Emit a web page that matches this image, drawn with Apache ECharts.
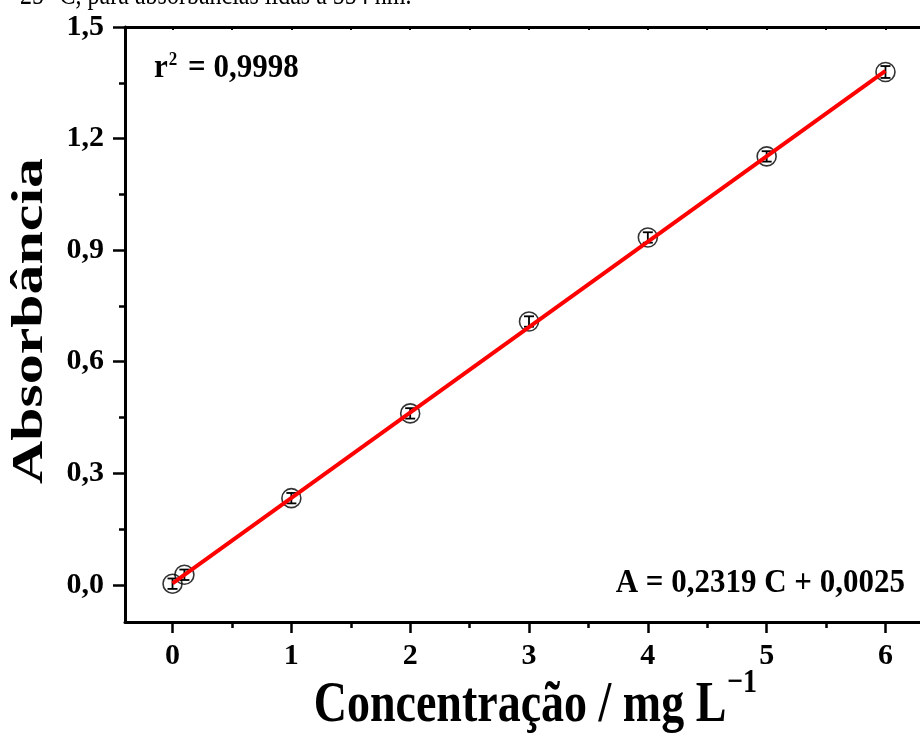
<!DOCTYPE html>
<html>
<head>
<meta charset="utf-8">
<script src="https://cdn.jsdelivr.net/npm/echarts@6/dist/echarts.min.js"></script>
<style>html,body{margin:0;padding:0;background:#fff}#c{width:920px;height:733px}</style>
</head>
<body>
<div id="c"></div>
<script>
// ---- data ----
const concentrations = [0, 0.1, 1, 2, 3, 4, 5, 6];
const absorbances = [0.003, 0.027, 0.233, 0.461, 0.708, 0.934, 1.152, 1.379];
const errors = [0.014, 0.014, 0.014, 0.014, 0.014, 0.014, 0.014, 0.016];
const fitX = [0, 6];
const fitY = [0.004, 1.382];
const xMajorTicks = [0, 1, 2, 3, 4, 5, 6];
const xMinorTicks = [0.5, 1.5, 2.5, 3.5, 4.5, 5.5];
const yMajorTicks = [0, 0.3, 0.6, 0.9, 1.2, 1.5];
const yMinorTicks = [0.15, 0.45, 0.75, 1.05, 1.35];
const xTitle = 'Concentração / mg L';
const xTitleSup = '−1';
const yTitle = 'Absorbância';
const r2Label = ' = 0,9998';
const eqLabel = 'A = 0,2319 C + 0,0025';
const caption = '25 °C, para absorbâncias lidas a 554 nm.';

const FONT = '"Liberation Serif", "Times New Roman", serif';
const chart = echarts.init(document.getElementById('c'), null, {renderer: 'canvas'});

const points = concentrations.map((c, i) => [c, absorbances[i]]);
const errData = concentrations.map((c, i) => [c, absorbances[i], errors[i]]);
const fitData = fitX.map((x, i) => [x, fitY[i]]);

const baseX = {type: 'value', min: -0.4, max: 6.4, splitLine: {show: false}};
const baseY = {type: 'value', min: -0.1, max: 1.5, splitLine: {show: false}};
const lineStyle = {color: '#000', width: 3};

const option = {
  backgroundColor: '#fff',
  animation: false,
  grid: {left: 125, top: 27, width: 808, height: 595, containLabel: false, outerBoundsMode: 'none'},
  xAxis: [
    Object.assign({}, baseX, {
      position: 'bottom',
      axisLine: {show: true, onZero: false, lineStyle: lineStyle},
      axisTick: {show: true, inside: false, length: 11, lineStyle: {color: '#000', width: 2.5}, customValues: xMajorTicks},
      axisLabel: {show: true, customValues: xMajorTicks, margin: 19, color: '#000', fontFamily: FONT, fontWeight: 'bold', fontSize: 30,
        formatter: v => String(v)}
    }),
    Object.assign({}, baseX, {
      position: 'bottom',
      axisLine: {show: false, onZero: false},
      axisTick: {show: true, inside: false, length: 6, lineStyle: {color: '#000', width: 2.5}, customValues: xMinorTicks},
      axisLabel: {show: false}
    }),
    Object.assign({}, baseX, {
      position: 'top',
      axisLine: {show: true, onZero: false, lineStyle: lineStyle},
      axisTick: {show: true, inside: true, length: 3, lineStyle: {color: '#000', width: 2}, customValues: xMajorTicks.concat(xMinorTicks)},
      axisLabel: {show: false}
    })
  ],
  yAxis: [
    Object.assign({}, baseY, {
      position: 'left',
      axisLine: {show: true, onZero: false, lineStyle: lineStyle},
      axisTick: {show: true, inside: false, length: 12, lineStyle: {color: '#000', width: 2.5}, customValues: yMajorTicks},
      axisLabel: {show: true, customValues: yMajorTicks, margin: 21, color: '#000', fontFamily: FONT, fontWeight: 'bold', fontSize: 30,
        formatter: v => v.toFixed(1).replace('.', ',')}
    }),
    Object.assign({}, baseY, {
      position: 'left',
      axisLine: {show: false, onZero: false},
      axisTick: {show: true, inside: false, length: 6, lineStyle: {color: '#000', width: 2.5}, customValues: yMinorTicks},
      axisLabel: {show: false}
    })
  ],
  series: [
    {
      type: 'custom', name: 'erro', xAxisIndex: 0, yAxisIndex: 0, z: 3,
      data: errData,
      renderItem: function (params, api) {
        const x = api.value(0), y = api.value(1), e = api.value(2);
        const top = api.coord([x, y + e]);
        const bot = api.coord([x, y - e]);
        const hw = 5;
        const st = {stroke: '#000', lineWidth: 1.8};
        return {type: 'group', children: [
          {type: 'line', shape: {x1: top[0], y1: top[1], x2: bot[0], y2: bot[1]}, style: st},
          {type: 'line', shape: {x1: top[0] - hw, y1: top[1], x2: top[0] + hw, y2: top[1]}, style: st},
          {type: 'line', shape: {x1: bot[0] - hw, y1: bot[1], x2: bot[0] + hw, y2: bot[1]}, style: st}
        ]};
      }
    },
    {
      type: 'scatter', name: 'Absorbância', xAxisIndex: 0, yAxisIndex: 0, z: 4,
      data: points, symbol: 'circle', symbolSize: 19,
      itemStyle: {color: 'rgba(0,0,0,0)', borderColor: '#000', borderWidth: 1.6}
    },
    {
      type: 'line', name: 'Ajuste', xAxisIndex: 0, yAxisIndex: 0, z: 5,
      data: fitData, showSymbol: false, symbol: 'none',
      lineStyle: {color: '#ff0000', width: 4}
    }
  ],
  graphic: [
    {type: 'text', x: 20, y: -4, scaleY: 1.2, style: {text: caption, fill: '#000', font: '24px ' + FONT, verticalAlign: 'middle', align: 'left'}},
    {type: 'text', x: 30, y: 321, rotation: Math.PI / 2, scaleX: 1.33,
      style: {text: yTitle, fill: '#000', font: 'bold 45px ' + FONT, align: 'center', verticalAlign: 'middle'}},
    {type: 'text', x: 520, y: 706, scaleY: 1.22,
      style: {text: xTitle, fill: '#000', font: 'bold 46px ' + FONT, align: 'center', verticalAlign: 'middle'}},
    {type: 'text', x: 727, y: 683, scaleY: 1.22,
      style: {text: xTitleSup, fill: '#000', font: 'bold 28px ' + FONT, align: 'left', verticalAlign: 'middle'}},
    {type: 'text', x: 154, y: 68, scaleY: 1.1,
      style: {text: '{b|r}{s|2}{b|' + r2Label + '}', fill: '#000', verticalAlign: 'middle', align: 'left',
        rich: {b: {fontFamily: FONT, fontWeight: 'bold', fontSize: 31, fill: '#000'},
               s: {fontFamily: FONT, fontWeight: 'bold', fontSize: 17, fill: '#000', verticalAlign: 'top', padding: [0, 3, 0, 1]}}}},
    {type: 'text', x: 905, y: 583, scaleY: 1.1,
      style: {text: eqLabel, fill: '#000', font: 'bold 31px ' + FONT, align: 'right', verticalAlign: 'middle'}}
  ]
};
chart.setOption(option);
</script>
</body>
</html>
